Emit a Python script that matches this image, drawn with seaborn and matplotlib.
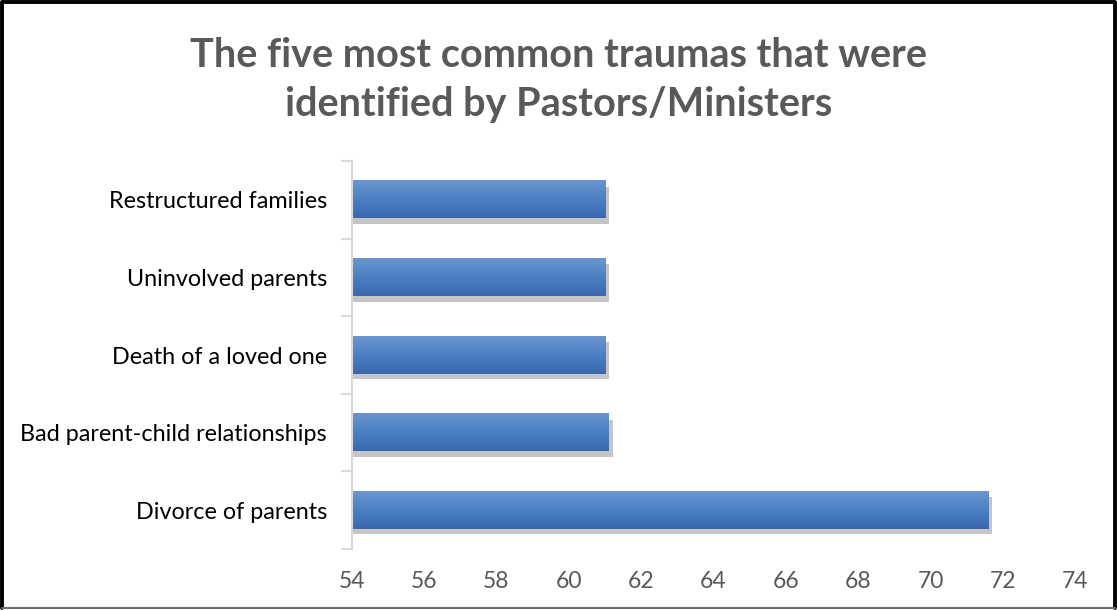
import numpy as np
import pandas as pd
import seaborn as sns
import matplotlib.pyplot as plt
import matplotlib.patheffects as pe
from matplotlib.colors import LinearSegmentedColormap
from matplotlib.lines import Line2D

# data
traumas = ["Restructured families", "Uninvolved parents", "Death of a loved one",
           "Bad parent-child relationships", "Divorce of parents"]
values = [61.0, 61.0, 61.0, 61.1, 71.6]
x_ticks = [54, 56, 58, 60, 62, 64, 66, 68, 70, 72, 74]
x_min, x_max = 54, 74

df = pd.DataFrame({"trauma": traumas, "value": values})

sns.set_style("white")
plt.rcParams["font.family"] = ["Lato", "DejaVu Sans"]
grey = "#595959"

fig = plt.figure(figsize=(11.17, 6.10), dpi=100)
ax = fig.add_axes([0.315, 0.10, 0.6475, 0.636])

sns.barplot(data=df, x="value", y="trauma", orient="h", color="#4a7ebf",
            width=0.48, ax=ax)

# vertical gradient + soft shadow on every bar, like the office chart
cmap = LinearSegmentedColormap.from_list("bar", ["#6c95d0", "#4a80c4", "#3968ad"])
grad = np.linspace(0, 1, 64).reshape(-1, 1)
for bar in ax.patches:
    bar.set_edgecolor("none")
    bar.set_path_effects([pe.SimplePatchShadow(offset=(3, -4), shadow_rgbFace="#8c8c8c", alpha=0.5),
                          pe.Normal()])
    y0, h = bar.get_y(), bar.get_height()
    x1 = bar.get_x() + bar.get_width()
    ax.imshow(grad, cmap=cmap, aspect="auto", extent=[x_min, x1, y0 + h, y0],
              zorder=bar.get_zorder() + 0.1)

ax.set_xlim(x_min, x_max)
ax.set_ylim(len(traumas) - 0.5, -0.5)
ax.set_xticks(x_ticks)
ax.set_xlabel("")
ax.set_ylabel("")

# category boundaries as tick marks on the y axis
ax.set_yticks(np.arange(len(traumas)))
ax.set_yticklabels(traumas)
ax.tick_params(axis="y", which="major", left=False, length=0, pad=18,
               labelsize=16.8, labelcolor="black")
ax.set_yticks(np.arange(-0.5, len(traumas), 1), minor=True)
ax.tick_params(axis="y", which="minor", left=True, length=8, width=1.5,
               color="#d9d9d9", direction="out")
ax.tick_params(axis="x", length=0, pad=16, labelsize=16.5, labelcolor=grey)

for s in ["top", "right", "bottom"]:
    ax.spines[s].set_visible(False)
ax.spines["left"].set_color("#d9d9d9")
ax.spines["left"].set_linewidth(1.5)
ax.spines["left"].set_zorder(5)

fig.text(0.5, 0.869, "The five most common traumas that were\nidentified by Pastors/Ministers",
         ha="center", va="center", fontsize=28.5, fontweight="bold", color=grey,
         linespacing=1.4)

# frame round the picture: black left/top/right, grey bottom
fig.lines.append(Line2D([0.0018, 0.0018, 0.9982, 0.9982], [0.004, 0.9965, 0.9965, 0.004],
                        transform=fig.transFigure, color="black", linewidth=2.8))
fig.lines.append(Line2D([0.0018, 0.9982], [0.003, 0.003], transform=fig.transFigure,
                        color="#6e6e6e", linewidth=1.5))

fig.savefig("out.png", dpi=100)
